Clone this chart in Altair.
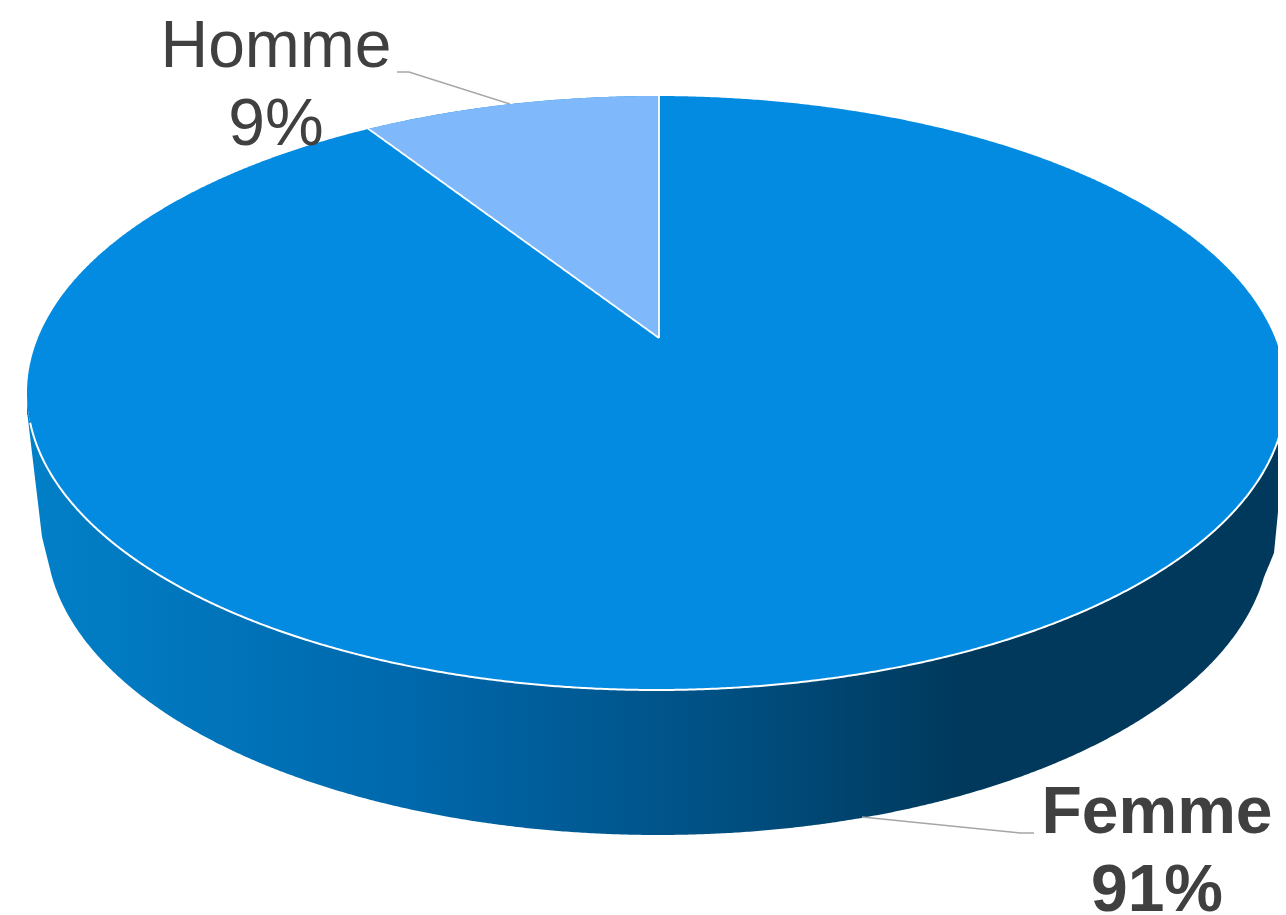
import altair as alt
import math

categories = ["Homme", "Femme"]
shares = [0.09, 0.91]
labels_pct = ["9%", "91%"]
label_x = [276, 1157]
label_y_name = [67, 833]
label_y_pct = [145, 911]
label_weight = ["normal", "bold"]

X = alt.Scale(domain=[8, 1278], range=[0, 1270], nice=False, zero=False)
Y = alt.Scale(domain=[8, 915], range=[0, 907], nice=False, zero=False)

FONT = "Liberation Sans"
TOP = "#038BE1"
WEDGE = "#80B9FB"
TEXT = "#404040"
LEAD = "#A6A6A6"

# top-face ellipse
CX, CY, AX, BY = 656.5, 393, 629.5, 297
# perspective of the pie plane (places the wedge edge from its share)
APX, APY, PA, PB, PK = 659, 338, 628, 286.8, 0.1852
# bottom rim ellipse of the side wall
CX2, CY2, AX2, BY2 = 658, 535, 612, 300

s = shares[0]
u, v = -math.sin(2 * math.pi * s), math.cos(2 * math.pi * s)
w = 1 + PK * v
PX = APX + PA * u / w
PY = APY - PB * v / w


def ex(x, y, **kw):
    return dict(
        x=alt.X(x, type="quantitative", scale=X, axis=None),
        y=alt.Y(y, type="quantitative", scale=Y, axis=None),
        **kw,
    )


seq = alt.sequence(-90, 90.01, 0.25, as_="t")

ellipse = (
    alt.Chart(seq)
    .transform_calculate(
        x=f"{CX}+{AX}*sin(datum.t*PI/180)",
        up=f"{CY}-{BY}*cos(datum.t*PI/180)",
        lo=f"{CY}+{BY}*cos(datum.t*PI/180)",
    )
)

bottom_expr = (
    "datum.x<27.5?415:"
    "datum.x<42?415+(datum.x-27.5)*(537-415)/14.5:"
    "datum.x<50?537+(datum.x-42)*(569-537)/8:"
    "datum.x<1264?" + f"{CY2}+{BY2}*sqrt(max(0,1-pow((datum.x-{CX2})/{AX2},2)))" + ":"
    "datum.x<1274?577+(datum.x-1264)*(553-577)/10:"
    "553+(datum.x-1274)*(430-553)/12"
)

gradient = alt.Gradient(
    gradient="linear",
    x1=0, x2=1, y1=0, y2=0,
    stops=[
        alt.GradientStop(offset=0.0, color="#0180C8"),
        alt.GradientStop(offset=0.3, color="#0068AC"),
        alt.GradientStop(offset=0.55, color="#005083"),
        alt.GradientStop(offset=0.74, color="#00395C"),
        alt.GradientStop(offset=1.0, color="#00395C"),
    ],
)

side = (
    ellipse.transform_calculate(bot=bottom_expr)
    .mark_area(color=gradient, opacity=1)
    .encode(**ex("x:Q", "lo:Q", y2="bot:Q"))
)

top = ellipse.mark_area(color=TOP, opacity=1).encode(**ex("x:Q", "up:Q", y2="lo:Q"))

rim = (
    ellipse.transform_filter("datum.lo>=422")
    .mark_line(color="white", strokeWidth=2)
    .encode(**ex("x:Q", "lo:Q", order="t:Q"))
)

wedge_base = (
    alt.Chart(alt.sequence(0, 1.0001, 0.005, as_="f"))
    .transform_calculate(
        x=f"{PX}+({APX}-{PX})*datum.f",
    )
    .transform_calculate(
        up=f"{CY}-{BY}*sqrt(max(0,1-pow((datum.x-{CX})/{AX},2)))",
        lo=f"{PY}+({APY}-{PY})*datum.f",
    )
)
wedge = wedge_base.mark_area(color=WEDGE, opacity=1).encode(**ex("x:Q", "up:Q", y2="lo:Q"))
wedge_edge = wedge_base.mark_line(color="white", strokeWidth=1.8).encode(
    **ex("x:Q", "lo:Q", order="f:Q")
)
radius = (
    alt.Chart(alt.Data(values=[{"y": CY - BY}, {"y": APY}]))
    .transform_calculate(x=str(APX))
    .mark_line(color="white", strokeWidth=1.8)
    .encode(**ex("x:Q", "y:Q"))
)

lead_a_x = [397, 409, 510]
lead_a_y = [72, 72, 104]
lead_b_x = [862, 1020, 1034]
lead_b_y = [817, 833, 833]


def leader(xs, ys):
    vals = [{"x": a, "y": b, "i": i} for i, (a, b) in enumerate(zip(xs, ys))]
    return (
        alt.Chart(alt.Data(values=vals))
        .mark_line(color=LEAD, strokeWidth=1.5)
        .encode(**ex("x:Q", "y:Q", order="i:Q"))
    )


def text_layer(ys, field):
    vals = [
        {"x": a, "y": b, "t": t, "w": wt}
        for a, b, t, wt in zip(label_x, ys, field, label_weight)
    ]
    out = []
    for wt in label_weight:
        out.append(
            alt.Chart(alt.Data(values=[r for r in vals if r["w"] == wt]))
            .mark_text(
                font=FONT, fontSize=66, fontWeight=wt, color=TEXT,
                align="center", baseline="alphabetic",
            )
            .encode(**ex("x:Q", "y:Q", text="t:N"))
        )
    return out


chart = (
    alt.layer(
        side, top, rim, wedge, wedge_edge, radius,
        leader(lead_a_x, lead_a_y), leader(lead_b_x, lead_b_y),
        *text_layer(label_y_name, categories),
        *text_layer(label_y_pct, labels_pct),
    )
    .properties(width=1270, height=907, padding=0,
                autosize=alt.AutoSizeParams(type="none"))
    .configure_view(stroke=None)
)

chart.save("out.html", embed_options={"renderer": "svg", "actions": False})
